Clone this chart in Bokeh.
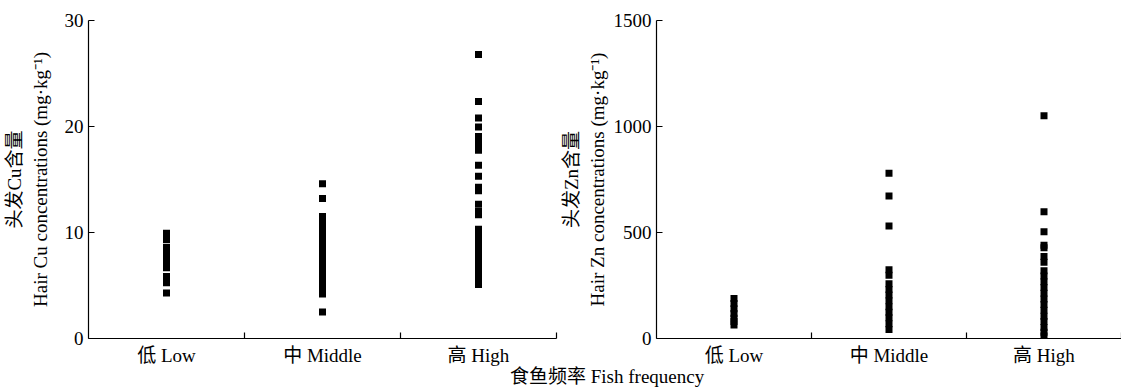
from bokeh.plotting import figure
from bokeh.models import Range1d, FixedTicker, Div
from bokeh.layouts import row, column
from bokeh.embed import file_html
from bokeh.resources import INLINE

# ---------------- data ----------------
categories = ["低 Low", "中 Middle", "高 High"]

cu_low = [9.93, 9.34, 8.6, 8.2, 7.85, 7.45, 7.1, 6.67, 5.84, 5.27, 4.3]
cu_middle = [14.6, 13.2, 11.5, 11.1, 10.7, 10.2, 9.8, 9.5, 9.0, 8.6, 8.1,
             7.8, 7.3, 6.9, 6.4, 6.0, 5.5, 5.1, 4.6, 4.2, 2.5]
cu_high = [26.8, 22.35, 20.8, 19.96, 19.05, 18.6, 18.2, 17.75, 16.35, 15.3,
           14.27, 13.95, 12.67, 11.99, 11.68, 10.3, 9.9, 9.5, 9.1, 8.7, 8.4,
           8.0, 7.6, 7.2, 6.9, 6.5, 6.1, 5.8, 5.4, 5.1]

zn_low = [189, 165, 140, 118, 95, 80, 64]
zn_middle = [779, 672, 531, 324, 298, 258, 231, 205, 178, 150, 124, 98, 70, 43]
zn_high = [1051, 598, 503, 440, 428, 387, 360, 320, 295, 268, 240, 214, 186,
           160, 133, 105, 80, 52, 30, 12]

cu_ticks = [0, 10, 20, 30]
zn_ticks = [0, 500, 1000, 1500]

cu_label = "头发Cu含量\nHair Cu concentrations (mg·kg⁻¹)"
zn_label = "头发Zn含量\nHair Zn concentrations (mg·kg⁻¹)"
x_title = "食鱼频率 Fish frequency"

FONT = "'Liberation Serif', 'Times New Roman', 'Noto Sans CJK SC', serif"
FS = "19px"


def make_panel(series, ymax, yticks, ylabel, width, min_left, min_right, label_standoff):
    p = figure(width=width, height=368,
               x_range=Range1d(0, len(categories)), y_range=Range1d(0, ymax),
               output_backend="svg", toolbar_location=None,
               min_border_left=min_left, min_border_right=min_right,
               min_border_top=20, min_border_bottom=27)
    p.outline_line_color = None
    p.grid.visible = False
    p.background_fill_color = "white"
    p.border_fill_color = "white"

    xs, ys = [], []
    for i, vals in enumerate(series):
        xs += [i + 0.5] * len(vals)
        ys += list(vals)
    p.scatter(xs, ys, marker="square", size=7, fill_color="black",
              line_color=None)

    centers = [i + 0.5 for i in range(len(categories))]
    xa = p.xaxis[0]
    xa.ticker = FixedTicker(ticks=centers,
                            minor_ticks=[i + 1 for i in range(len(categories))])
    xa.major_label_overrides = {c: lab for c, lab in zip(centers, categories)}
    xa.major_tick_in = 0
    xa.major_tick_out = 0
    xa.minor_tick_in = 6
    xa.minor_tick_out = 0
    xa.minor_tick_line_color = "black"
    xa.minor_tick_line_width = 1.2
    xa.major_label_standoff = 6

    ya = p.yaxis[0]
    ya.ticker = FixedTicker(ticks=yticks)
    ya.major_tick_in = 6
    ya.major_tick_out = 0
    ya.minor_tick_line_color = None
    ya.major_label_standoff = 5
    ya.axis_label = ylabel
    ya.axis_label_standoff = label_standoff
    ya.axis_label_text_font_style = "normal"
    ya.axis_label_text_font_size = FS
    ya.axis_label_text_font = FONT
    ya.axis_label_text_color = "black"

    for ax in (xa, ya):
        ax.axis_line_color = "black"
        ax.axis_line_width = 1.2
        ax.major_tick_line_color = "black"
        ax.major_tick_line_width = 1.2
        ax.major_label_text_font = FONT
        ax.major_label_text_font_size = FS
        ax.major_label_text_color = "black"
    return p


p1 = make_panel([cu_low, cu_middle, cu_high], 30, cu_ticks, cu_label,
                width=558, min_left=88, min_right=2, label_standoff=11)
p2 = make_panel([zn_low, zn_middle, zn_high], 1500, zn_ticks, zn_label,
                width=563, min_left=98, min_right=0, label_standoff=3)

title = Div(text=('<div style="font-family:' + FONT.replace("'", "&quot;") +
                  ';font-size:' + FS + ';line-height:17px;color:black;'
                  'white-space:nowrap;">' + x_title + '</div>'),
            width=260, height=17, margin=(0, 0, 0, 510))

layout = column(row(p1, p2), title)

open("out.html", "w").write(file_html(layout, INLINE))
